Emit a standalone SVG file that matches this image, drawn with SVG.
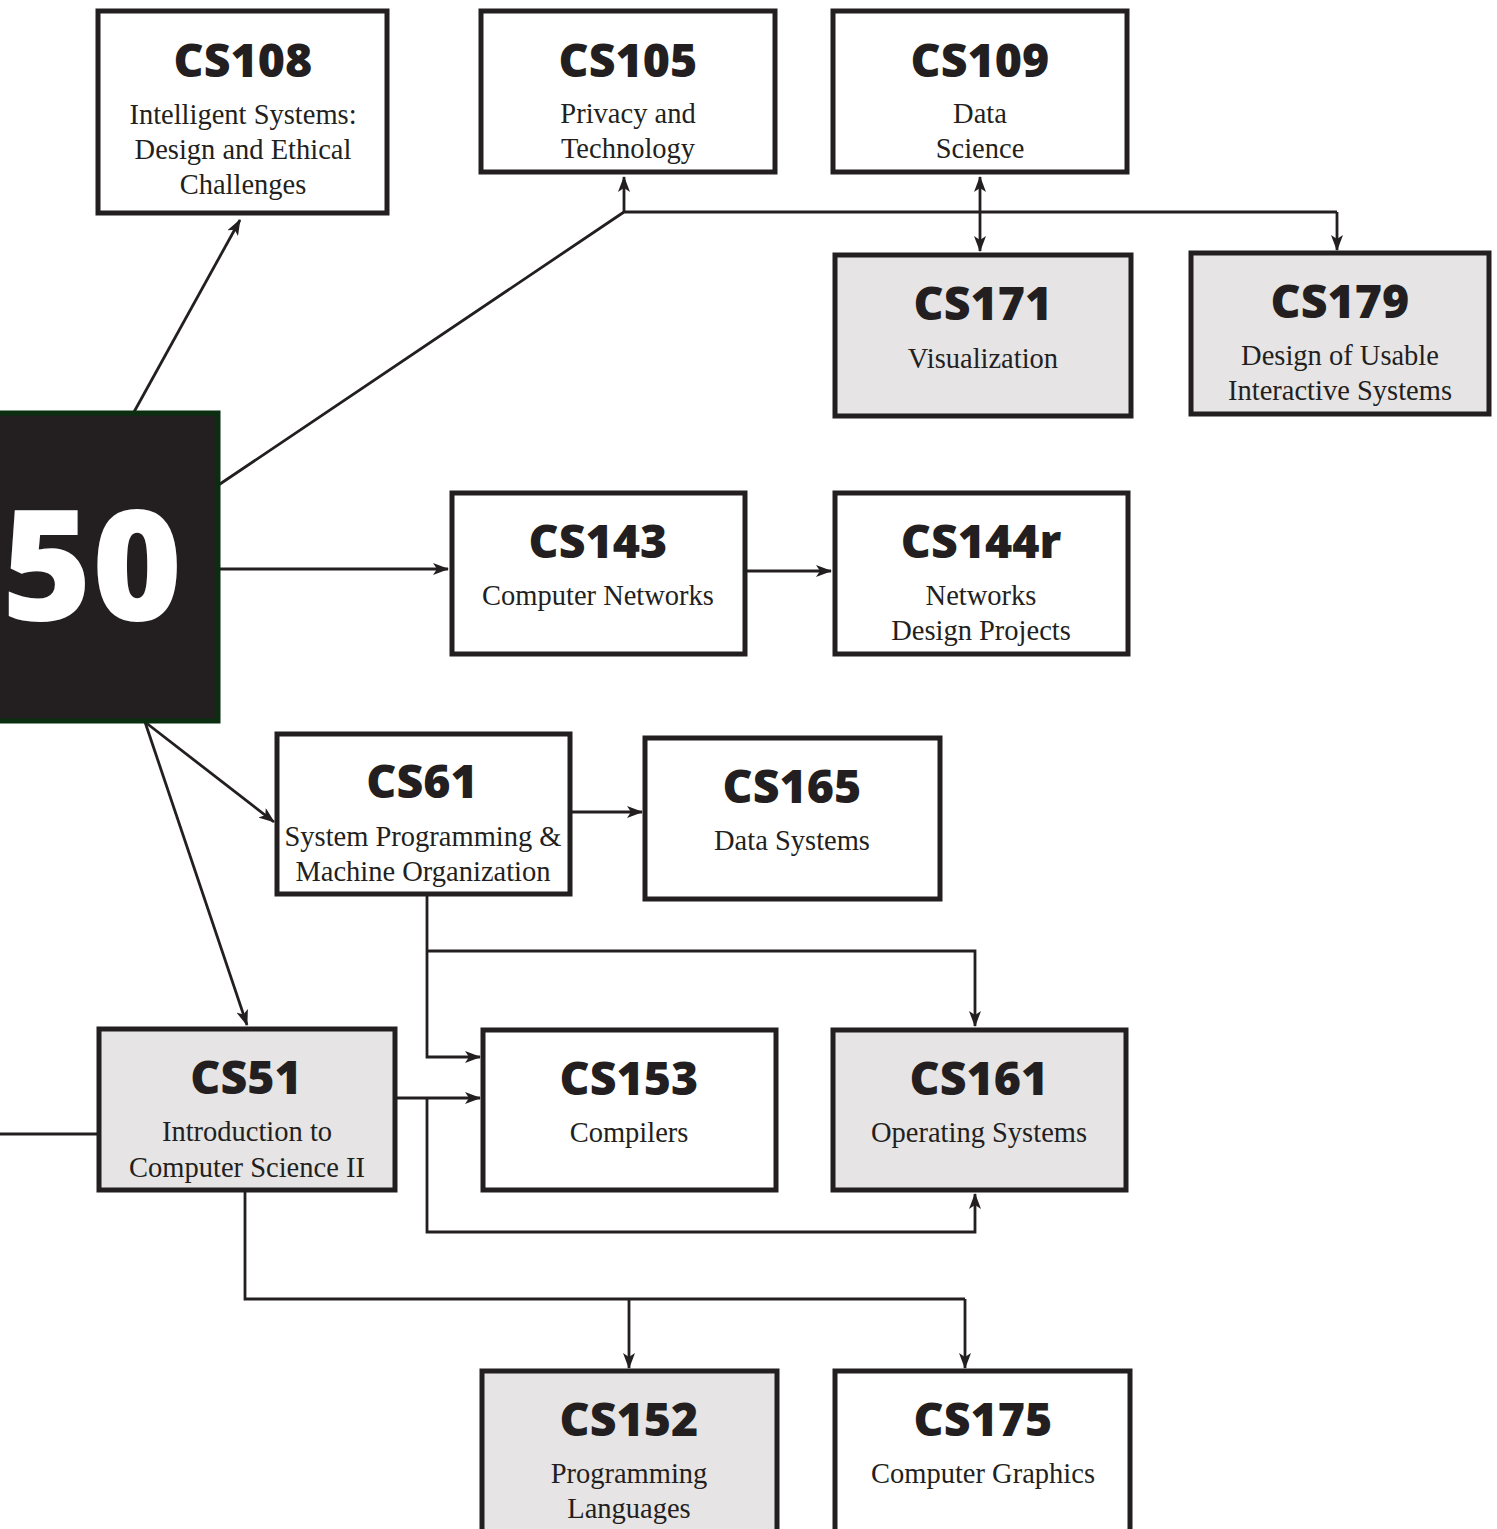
<svg xmlns="http://www.w3.org/2000/svg" width="1497" height="1529" viewBox="0 0 1497 1529">
<defs>
<marker id="ah" viewBox="0 0 16 12" refX="15" refY="6" markerWidth="16" markerHeight="12" markerUnits="userSpaceOnUse" orient="auto-start-reverse">
<path d="M0,0 L16,6 L0,12 L4,6 z" fill="#231f20"/>
</marker>
<style>
.box{fill:#fff;stroke:#231f20;stroke-width:5}
.gray{fill:#e6e4e5}
.t{font-family:"Open Sans",sans-serif;font-weight:800;font-size:46.5px;fill:#231f20;text-anchor:middle}
.s{font-family:"Liberation Serif",serif;font-size:28.5px;fill:#231f20;text-anchor:middle}
.c{fill:none;stroke:#231f20;stroke-width:2.8}
.a{marker-end:url(#ah)}
</style>
</defs>
<rect width="1497" height="1529" fill="#fff"/>
<g id="connectors">
<path class="c a" d="M134,412 L240,220"/>
<path class="c" d="M217,486 L624,212 L1337,212"/>
<path class="c a" d="M624,212 L624,177"/>
<path class="c a" d="M1337,212 L1337,250"/>
<path class="c" d="M980,177 L980,251" marker-start="url(#ah)" marker-end="url(#ah)"/>
<path class="c a" d="M217,569 L448,569"/>
<path class="c a" d="M746,571 L831,571"/>
<path class="c a" d="M145,722 L274,822"/>
<path class="c a" d="M145,722 L247,1025"/>
<path class="c a" d="M571,812 L642,812"/>
<path class="c a" d="M427,895 L427,1057 L480,1057"/>
<path class="c a" d="M427,951 L975,951 L975,1026"/>
<path class="c a" d="M396,1098 L480,1098"/>
<path class="c a" d="M427,1098 L427,1232 L975,1232 L975,1194"/>
<path class="c" d="M0,1134 L98,1134"/>
<path class="c" d="M245,1191 L245,1299 L965,1299"/>
<path class="c a" d="M629,1299 L629,1368"/>
<path class="c a" d="M965,1299 L965,1368"/>
</g>
<g id="cs50">
<rect x="-10" y="413" width="228" height="308" fill="#231f20" stroke="#0b2e10" stroke-width="5"/>
<text x="92" y="620" font-family="Open Sans, sans-serif" font-weight="800" font-size="154" fill="#fff" text-anchor="middle">50</text>
</g>
<g id="cs108">
<rect class="box" x="98" y="11" width="289" height="202"/>
<text class="t" x="243" y="77">CS108</text>
<text class="s" x="243" y="124">Intelligent Systems:</text>
<text class="s" x="243" y="159">Design and Ethical</text>
<text class="s" x="243" y="194">Challenges</text>
</g>
<g id="cs105">
<rect class="box" x="481" y="11" width="294" height="161"/>
<text class="t" x="628" y="77">CS105</text>
<text class="s" x="628" y="123">Privacy and</text>
<text class="s" x="628" y="158">Technology</text>
</g>
<g id="cs109">
<rect class="box" x="833" y="11" width="294" height="161"/>
<text class="t" x="980" y="77">CS109</text>
<text class="s" x="980" y="123">Data</text>
<text class="s" x="980" y="158">Science</text>
</g>
<g id="cs171">
<rect class="box gray" x="835" y="255" width="296" height="161"/>
<text class="t" x="983" y="320">CS171</text>
<text class="s" x="983" y="368">Visualization</text>
</g>
<g id="cs179">
<rect class="box gray" x="1191" y="253" width="298" height="161"/>
<text class="t" x="1340" y="318">CS179</text>
<text class="s" x="1340" y="365">Design of Usable</text>
<text class="s" x="1340" y="400">Interactive Systems</text>
</g>
<g id="cs143">
<rect class="box" x="452" y="493" width="293" height="161"/>
<text class="t" x="598" y="558">CS143</text>
<text class="s" x="598" y="605">Computer Networks</text>
</g>
<g id="cs144r">
<rect class="box" x="835" y="493" width="293" height="161"/>
<text class="t" x="981" y="558">CS144r</text>
<text class="s" x="981" y="605">Networks</text>
<text class="s" x="981" y="640">Design Projects</text>
</g>
<g id="cs61">
<rect class="box" x="277" y="734" width="293" height="160"/>
<text class="t" x="422" y="798">CS61</text>
<text class="s" x="423" y="846">System Programming &amp;</text>
<text class="s" x="423" y="881">Machine Organization</text>
</g>
<g id="cs165">
<rect class="box" x="645" y="738" width="295" height="161"/>
<text class="t" x="792" y="803">CS165</text>
<text class="s" x="792" y="850">Data Systems</text>
</g>
<g id="cs51">
<rect class="box gray" x="99" y="1029" width="296" height="161"/>
<text class="t" x="246" y="1094">CS51</text>
<text class="s" x="247" y="1141">Introduction to</text>
<text class="s" x="247" y="1177">Computer Science II</text>
</g>
<g id="cs153">
<rect class="box" x="483" y="1030" width="293" height="160"/>
<text class="t" x="629" y="1095">CS153</text>
<text class="s" x="629" y="1142">Compilers</text>
</g>
<g id="cs161">
<rect class="box gray" x="833" y="1030" width="293" height="160"/>
<text class="t" x="979" y="1095">CS161</text>
<text class="s" x="979" y="1142">Operating Systems</text>
</g>
<g id="cs152">
<rect class="box gray" x="482" y="1371" width="295" height="170"/>
<text class="t" x="629" y="1436">CS152</text>
<text class="s" x="629" y="1483">Programming</text>
<text class="s" x="629" y="1518">Languages</text>
</g>
<g id="cs175">
<rect class="box" x="835" y="1371" width="295" height="170"/>
<text class="t" x="983" y="1436">CS175</text>
<text class="s" x="983" y="1483">Computer Graphics</text>
</g>
</svg>
